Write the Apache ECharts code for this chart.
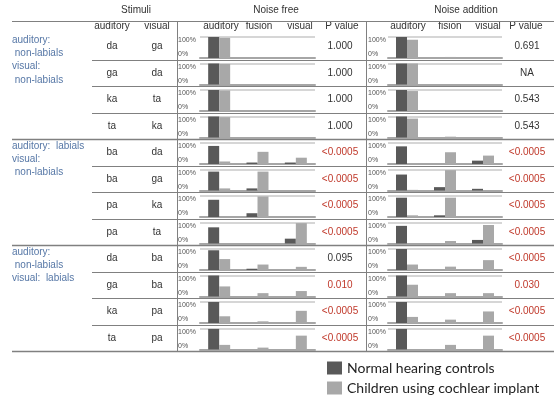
<!DOCTYPE html>
<html><head><meta charset="utf-8">
<script src="https://cdn.jsdelivr.net/npm/echarts@6/dist/echarts.min.js"></script>
<style>html,body{margin:0;padding:0;background:#fff}#c{width:554px;height:400px}</style>
</head><body><div id="c"></div>
<script>
// ---- data ----
const categories = ['auditory', 'fusion', 'visual'];
const audStim = ['da','ga','ka','ta','ba','ba','pa','pa','da','ga','ka','ta'];
const visStim = ['ga','da','ta','ka','da','ga','ka','ta','ba','ba','pa','pa'];
const groupLabels = [
  ['auditory:', ' non-labials', 'visual:', ' non-labials'],
  ['auditory:  labials', 'visual:', ' non-labials'],
  ['auditory:', ' non-labials', 'visual:  labials']
];
// Noise free: percent responses [auditory, fusion, visual]
const freeNormal = [
  [100,0,0],[100,0,0],[100,0,0],[100,0,0],
  [86,7,7],[90,10,0],[82,18,0],[77,0,23],
  [94,6,0],[100,0,0],[100,0,0],[98,0,0]
];
const freeCI = [
  [96,2,0],[98,1,0],[98,1,0],[97,1,0],
  [12,58,30],[10,90,0],[0,98,2],[0,2,97],
  [52,26,15],[48,16,26],[32,8,58],[22,9,66]
];
// Noise addition
const noiseNormal = [
  [100,0,0],[100,0,0],[100,0,0],[100,0,0],
  [84,0,16],[76,16,8],[92,8,0],[84,0,17],
  [100,0,0],[100,0,0],[100,0,0],[98,0,0]
];
const noiseCI = [
  [87,5,2],[100,0,0],[95,4,0],[90,4,0],
  [3,56,40],[3,97,0],[8,92,0],[0,12,88],
  [26,16,47],[56,16,16],[29,16,55],[2,22,66]
];
const pFree  = ['1.000','1.000','1.000','1.000','<0.0005','<0.0005','<0.0005','<0.0005','0.095','0.010','<0.0005','<0.0005'];
const pNoise = ['0.691','NA','0.543','0.543','<0.0005','<0.0005','<0.0005','<0.0005','<0.0005','0.030','<0.0005','<0.0005'];
const seriesNames = ['Normal hearing controls', 'Children using cochlear implant'];

// ---- layout ----
const FONT = '"Liberation Sans", Arial, sans-serif';
const rowTop = i => 33 + 26.5 * i;
const panelLeft = [200, 388], panelWidth = [115, 114], labelMargin = [22, 20];
const pX = [340, 527];
const lineColor = '#808080';
const darkC = '#595959', lightC = '#a8a8a8';

const grid = [], xAxis = [], yAxis = [], series = [];
let g = 0;
for (let i = 0; i < 12; i++) {
  for (let p = 0; p < 2; p++) {
    grid.push({left: panelLeft[p], top: rowTop(i) + 4, width: panelWidth[p], height: 21});
    xAxis.push({gridIndex: g, type: 'category', data: categories,
      axisTick: {show: false}, axisLabel: {show: false},
      axisLine: {lineStyle: {color: '#a6a6a6', width: 2}}});
    yAxis.push({gridIndex: g, type: 'value', min: 0, max: 100, interval: 100,
      axisLine: {show: false}, axisTick: {show: false},
      axisLabel: {formatter: '{value}%', fontSize: 7, color: '#555', fontFamily: FONT,
        align: 'left', margin: labelMargin[p],
        verticalAlignMinLabel: 'bottom', verticalAlignMaxLabel: 'top'},
      splitLine: {lineStyle: {color: '#c8c8c8', width: 1.5}}});
    const nd = p === 0 ? freeNormal[i] : noiseNormal[i];
    const cd = p === 0 ? freeCI[i] : noiseCI[i];
    series.push({type: 'bar', name: seriesNames[0], xAxisIndex: g, yAxisIndex: g, data: nd,
      barWidth: 11, barGap: '0%', itemStyle: {color: darkC}, silent: true});
    series.push({type: 'bar', name: seriesNames[1], xAxisIndex: g, yAxisIndex: g, data: cd,
      barWidth: 11, barGap: '0%', itemStyle: {color: lightC}, silent: true});
    g++;
  }
}

// ---- table graphics ----
const gr = [];
const txt = (x, y, s, opt) => gr.push({type: 'text', x: x, y: y, silent: true,
  style: Object.assign({text: s, fontSize: 10, fontFamily: FONT, fill: '#333',
    align: 'center', verticalAlign: 'middle'}, opt || {})});
const ln = (x1, y1, x2, y2, w) => gr.push({type: 'line', silent: true,
  shape: {x1: x1, y1: y1, x2: x2, y2: y2}, style: {stroke: lineColor, lineWidth: w || 1}});

txt(136, 10, 'Stimuli');
txt(276, 10, 'Noise free');
txt(466, 10, 'Noise addition');
const colHeads = [[112,'auditory'],[157,'visual'],[221,'auditory'],[259,'fusion'],[300,'visual'],[342,'P value'],
                  [408,'auditory'],[450,'fision'],[488,'visual'],[526,'P value']];
colHeads.forEach(c => txt(c[0], 26.5, c[1]));

ln(12, 21.5, 554, 21.5);
ln(177.5, 21.5, 177.5, 351.5);
ln(366.5, 21.5, 366.5, 351.5);
for (let i = 1; i <= 12; i++) {
  const y = Math.round(rowTop(i)) + 0.5;
  ln(i % 4 === 0 ? 12 : 92, y, 554, y, i % 4 === 0 ? 1.3 : 1);
}
const isSig = s => s.startsWith('<') || (parseFloat(s) < 0.05);
for (let i = 0; i < 12; i++) {
  const cy = rowTop(i) + 13.5;
  txt(112, cy, audStim[i]);
  txt(157, cy, visStim[i]);
  txt(pX[0], cy, pFree[i], {fill: isSig(pFree[i]) ? '#c0392b' : '#333'});
  txt(pX[1], cy, pNoise[i], {fill: isSig(pNoise[i]) ? '#c0392b' : '#333'});
}
groupLabels.forEach((lines, k) => {
  const y0 = rowTop(k * 4) + 7;
  lines.forEach((s, j) => txt(12, y0 + j * 13.3, s, {align: 'left', fill: '#5677a6'}));
});

const chart = echarts.init(document.getElementById('c'));
chart.setOption({
  animation: false,
  backgroundColor: '#fff',
  legend: {data: seriesNames, orient: 'vertical', left: 327, top: 361, padding: 0,
    icon: 'rect', itemWidth: 15, itemHeight: 13, itemGap: 6,
    selectedMode: false,
    textStyle: {fontFamily: 'Lato, "Open Sans", sans-serif', fontSize: 14, color: '#222'}},
  grid: grid, xAxis: xAxis, yAxis: yAxis, series: series,
  graphic: gr
});
</script></body></html>
